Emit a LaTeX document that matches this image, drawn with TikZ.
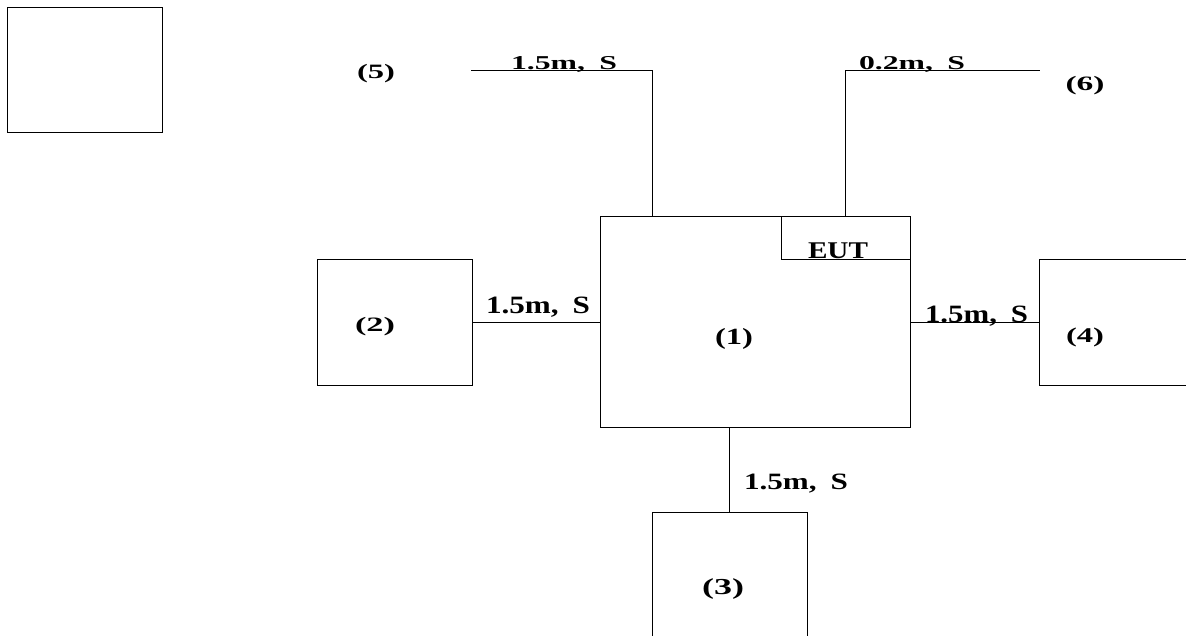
\documentclass[tikz,border=0pt]{standalone}
\usepackage{fontspec}
\usepackage{graphicx}
\setmainfont{Liberation Serif}
\newcommand\mlab[3]{\resizebox{#1pt}{#2pt}{\bfseries #3}}
\newcommand\plab[3]{\resizebox*{#1pt}{#2pt}{\bfseries #3}}
\tikzset{
  box/.style={draw, line width=1pt, rectangle, inner sep=0pt},
  conn/.style={line width=1pt},
  txt/.style={inner sep=0pt, outer sep=0pt},
}
\begin{document}
\begin{tikzpicture}[x=1pt,y=-1pt]
\useasboundingbox (0,0) rectangle (1186,635);
\clip (0,0) rectangle (1186,635);
% boxes
\node[box, minimum width=155pt, minimum height=125pt] (b0) at (84.5,69.5) {};
\node[box, minimum width=310pt, minimum height=211pt] (b1) at (755,321.5) {};
\node[box, minimum width=129pt, minimum height=43pt] (eut) at (845.5,237.5) {};
\node[box, minimum width=155pt, minimum height=126pt] (b2) at (394.5,322) {};
\node[box, minimum width=155pt, minimum height=126pt] (b4) at (1116.5,322) {};
\node[box, minimum width=155pt, minimum height=126pt] (b3) at (729.5,575) {};
% connectors
\coordinate (c5) at (471,70);
\coordinate (k5) at (652,70);
\coordinate (c6) at (1040,70);
\draw[conn] (c5) -- (k5) -- (k5 |- b1.north);
\draw[conn] (eut.north) -- (eut.north |- c6) -- (c6);
\draw[conn] (b2.east) -- (b1.west |- b2.east);
\draw[conn] (b1.east |- b4.west) -- (b4.west);
\draw[conn] (b3.north) -- (b3.north |- b1.south);
% measurement labels
\node[txt, anchor=base] (l5) at (564,69) {\mlab{106}{13}{1.5m,\hspace{0.45em}S}};
\node[txt, anchor=base] (l6) at (912,69) {\mlab{106}{13}{0.2m,\hspace{0.45em}S}};
\node[txt, anchor=base] (l2) at (538,313) {\mlab{104}{16.5}{1.5m,\hspace{0.45em}S}};
\node[txt, anchor=base] (l4) at (976.5,322) {\mlab{103}{16.5}{1.5m,\hspace{0.45em}S}};
\node[txt, anchor=base] (l3) at (796,489) {\mlab{104}{15.5}{1.5m,\hspace{0.45em}S}};
% numbered labels
\node[txt] (n5) at (376,74) {\plab{38}{18.5}{(5)}};
\node[txt] (n6) at (1085,86) {\plab{39}{18.5}{(6)}};
\node[txt] (n2) at (375,327) {\plab{40}{18.5}{(2)}};
\node[txt] (n4) at (1085,337) {\plab{38}{19}{(4)}};
\node[txt] (n3) at (723,589) {\plab{42}{20.7}{(3)}};
\node[txt] (n1) at (734,339) {\plab{38}{21}{(1)}};
\node[txt, anchor=base] (te) at (838,258) {\resizebox{60pt}{15.7pt}{\bfseries EUT}};
\end{tikzpicture}
\end{document}
